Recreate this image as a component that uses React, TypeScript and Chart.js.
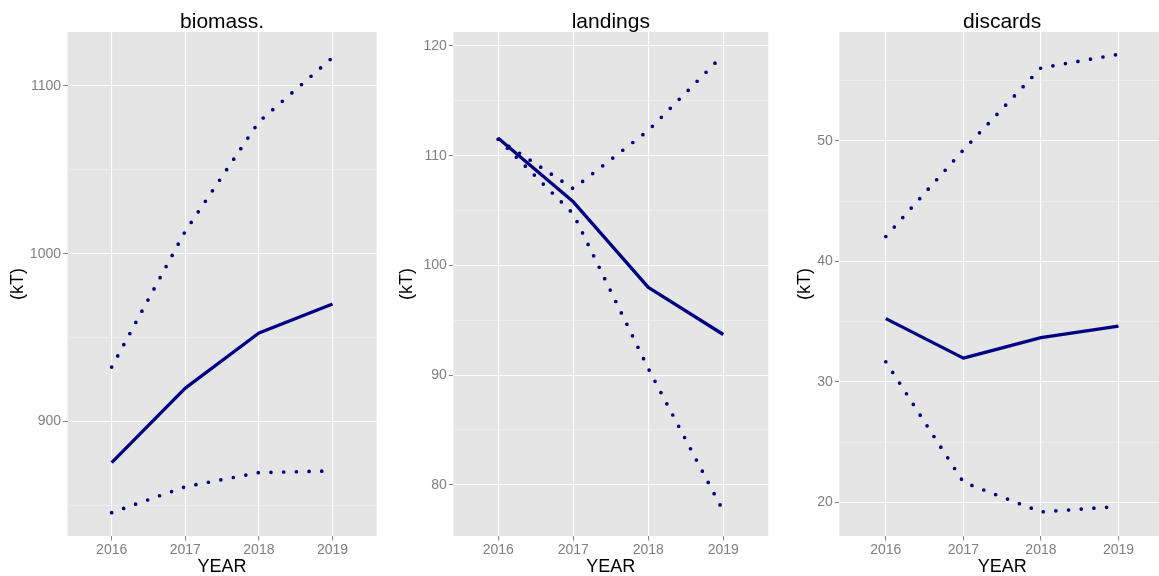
import React, { useEffect, useRef } from "react";
import { Chart, registerables } from "chart.js";

Chart.register(...registerables);

// ---------- data ----------
const years = [2016, 2017, 2018, 2019];
const yearTicks = [2016, 2017, 2018, 2019];

const biomassCentral = [875.5, 919.9, 952.8, 970.1];
const biomassUpper = [932.5, 1013.5, 1078.7, 1117.0];
const biomassLower = [845.7, 861.2, 869.6, 870.6];
const biomassMajorTicks = [900, 1000, 1100];
const biomassMinorTicks = [850, 950, 1050];

const landingsCentral = [111.6, 105.8, 98.0, 93.7];
const landingsUpper = [111.5, 107.0, 112.3, 119.2];
const landingsLower = [111.5, 104.7, 90.6, 77.6];
const landingsMajorTicks = [80, 90, 100, 110, 120];
const landingsMinorTicks = [85, 95, 105, 115];

const discardsCentral = [35.25, 31.97, 33.67, 34.63];
const discardsUpper = [42.07, 49.26, 56.07, 57.2];
const discardsLower = [31.67, 21.67, 19.2, 19.65];
const discardsMajorTicks = [20, 30, 40, 50];
const discardsMinorTicks = [25, 35, 45, 55];

const panelTitles = ["biomass.", "landings", "discards"];
const yAxisTitle = "(kT)";
const xAxisTitle = "YEAR";

// ---------- styling / layout ----------
const FONT = "'Liberation Sans', Arial, Helvetica, sans-serif";
const LINE_COLOR = "#000080";
const PANEL_BG = "#E5E5E5";
const TICK_TEXT = "#7F7F7F";

type Panel = {
  title: string;
  central: number[];
  upper: number[];
  lower: number[];
  major: number[];
  minor: number[];
  yMin: number;
  yMax: number;
  left: number;
  width: number;
  yAxisWidth: number;
  rightPad: number;
  yTitlePad: number;
};

const panels: Panel[] = [
  {
    title: panelTitles[0],
    central: biomassCentral,
    upper: biomassUpper,
    lower: biomassLower,
    major: biomassMajorTicks,
    minor: biomassMinorTicks,
    yMin: 831.8,
    yMax: 1132.2,
    left: 0,
    width: 390,
    yAxisWidth: 67.5,
    rightPad: 13.3,
    yTitlePad: 9.3,
  },
  {
    title: panelTitles[1],
    central: landingsCentral,
    upper: landingsUpper,
    lower: landingsLower,
    major: landingsMajorTicks,
    minor: landingsMinorTicks,
    yMin: 75.33,
    yMax: 121.28,
    left: 390,
    width: 390,
    yAxisWidth: 63.3,
    rightPad: 11.7,
    yTitlePad: 7.7,
  },
  {
    title: panelTitles[2],
    central: discardsCentral,
    upper: discardsUpper,
    lower: discardsLower,
    major: discardsMajorTicks,
    minor: discardsMinorTicks,
    yMin: 17.2,
    yMax: 59.05,
    left: 780,
    width: 400,
    yAxisWidth: 59.3,
    rightPad: 15,
    yTitlePad: 16,
  },
];

const toPoints = (vals: number[]) => years.map((x, i) => ({ x, y: vals[i] }));

const bgPlugin = {
  id: "panelBg",
  beforeDraw(chart: any) {
    const { ctx, chartArea } = chart;
    if (!chartArea) return;
    ctx.save();
    ctx.fillStyle = PANEL_BG;
    ctx.fillRect(
      chartArea.left,
      chartArea.top,
      chartArea.right - chartArea.left,
      chartArea.bottom - chartArea.top
    );
    ctx.restore();
  },
};

const titlePlugin = {
  id: "panelTitle",
  afterDraw(chart: any) {
    const { ctx, chartArea } = chart;
    const text = chart.options.plugins.panelTitle?.text || "";
    ctx.save();
    ctx.fillStyle = "#000000";
    ctx.font = `21px ${FONT}`;
    ctx.textAlign = "center";
    ctx.textBaseline = "alphabetic";
    ctx.fillText(text, (chartArea.left + chartArea.right) / 2, 28.3);
    ctx.restore();
  },
};

function PanelChart({ p }: { p: Panel }) {
  const ref = useRef<HTMLCanvasElement | null>(null);

  useEffect(() => {
    if (!ref.current) return;
    const allTicks = [...p.major, ...p.minor].sort((a, b) => a - b);
    const isMajor = (ctx: any) => !!ctx.tick && p.major.includes(ctx.tick.value);

    const dotted = {
      borderColor: LINE_COLOR,
      borderWidth: 3.7,
      borderDash: [0, 12.7],
      borderCapStyle: "round" as const,
      pointRadius: 0,
      fill: false,
      tension: 0,
    };

    const chart = new Chart(ref.current, {
      type: "line",
      data: {
        datasets: [
          {
            label: "upper",
            data: toPoints(p.upper),
            ...dotted,
          },
          {
            label: "lower",
            data: toPoints(p.lower),
            ...dotted,
          },
          {
            label: "central",
            data: toPoints(p.central),
            borderColor: LINE_COLOR,
            borderWidth: 3.3,
            borderJoinStyle: "round",
            borderCapStyle: "butt",
            pointRadius: 0,
            fill: false,
            tension: 0,
          },
        ],
      },
      options: {
        animation: false,
        responsive: false,
        devicePixelRatio: 1,
        layout: { padding: { top: 32, right: p.rightPad, left: 0, bottom: 0 } },
        plugins: {
          legend: { display: false },
          tooltip: { enabled: false },
          title: { display: false },
          // @ts-ignore
          panelTitle: { text: p.title },
        },
        scales: {
          x: {
            type: "linear",
            min: 2015.4,
            max: 2019.6,
            afterBuildTicks: (scale: any) => {
              scale.ticks = yearTicks.map((v) => ({ value: v }));
            },
            afterFit: (scale: any) => {
              scale.height = 40;
            },
            border: { display: false },
            grid: {
              color: "#FFFFFF",
              lineWidth: 1.1,
              drawTicks: true,
              tickLength: 4.5,
              tickColor: TICK_TEXT,
              tickWidth: 1,
            },
            ticks: {
              autoSkip: false,
              maxRotation: 0,
              padding: 1.5,
              color: TICK_TEXT,
              font: { family: FONT, size: 14 },
              callback: (v: any) => String(v),
            },
            title: {
              display: true,
              text: xAxisTitle,
              color: "#000000",
              font: { family: FONT, size: 18, lineHeight: 1 },
              padding: { top: 0, bottom: 0 },
            },
          },
          y: {
            type: "linear",
            min: p.yMin,
            max: p.yMax,
            afterBuildTicks: (scale: any) => {
              scale.ticks = allTicks.map((v) => ({ value: v }));
            },
            afterFit: (scale: any) => {
              scale.width = p.yAxisWidth;
            },
            border: { display: false },
            grid: {
              color: (ctx: any) => (isMajor(ctx) ? "#FFFFFF" : "#F2F2F2"),
              lineWidth: (ctx: any) => (isMajor(ctx) ? 1.1 : 0.6),
              drawTicks: true,
              tickLength: 4.5,
              tickColor: (ctx: any) => (isMajor(ctx) ? TICK_TEXT : "rgba(0,0,0,0)"),
              tickWidth: 1,
            },
            ticks: {
              autoSkip: false,
              padding: 2,
              color: TICK_TEXT,
              font: { family: FONT, size: 14 },
              callback: (v: any) => (p.major.includes(Number(v)) ? String(v) : ""),
            },
            title: {
              display: true,
              text: yAxisTitle,
              color: "#000000",
              font: { family: FONT, size: 18, lineHeight: 1 },
              padding: { top: p.yTitlePad, bottom: 0 },
            },
          },
        },
      },
      plugins: [bgPlugin, titlePlugin],
    } as any);

    return () => chart.destroy();
  }, [p]);

  return (
    <canvas
      ref={ref}
      width={p.width}
      height={576}
      style={{
        position: "absolute",
        left: p.left,
        top: 0,
        width: p.width,
        height: 576,
      }}
    />
  );
}

export default function App() {
  return (
    <div
      style={{
        position: "fixed",
        left: 0,
        top: 0,
        width: 1159,
        height: 576,
        overflow: "hidden",
        background: "#FFFFFF",
      }}
    >
      {panels.map((p) => (
        <PanelChart key={p.title} p={p} />
      ))}
    </div>
  );
}
